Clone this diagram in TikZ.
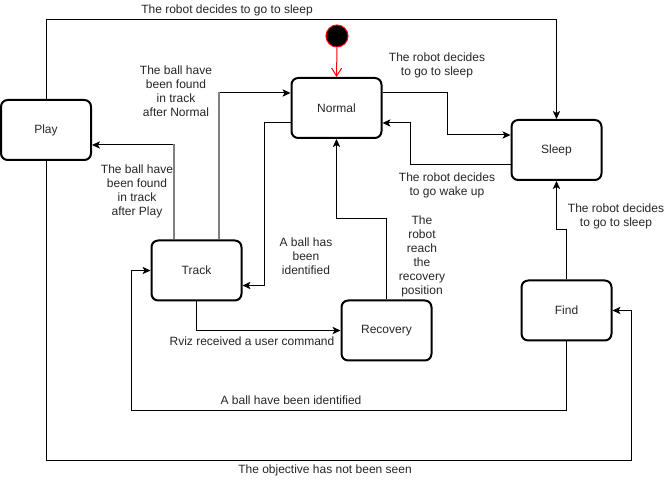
\documentclass[tikz,border=0pt]{standalone}
\usepackage{fontspec}
\setmainfont{Liberation Sans}
\usetikzlibrary{arrows.meta,calc}
\begin{document}
\begin{tikzpicture}[x=0.75pt,y=-0.75pt,
  font=\fontsize{9}{10.5}\selectfont,
  state/.style={draw=black,line width=1.5pt,rounded corners=5pt,minimum width=67.5pt,minimum height=45pt,inner sep=0pt,text=black!85},
  arr/.style={draw=black,line width=0.75pt,-{Stealth[length=6pt,width=5.5pt,inset=1.5pt]}},
  grayseg/.style={draw=black!50,line width=1.1pt},
  lbl/.style={align=center,text=black!85,inner sep=1pt}]
\useasboundingbox (0,0) rectangle (672,481);
\fill[white] (0,0) rectangle (672,481);
% states
\node[state] (play) at (46,130) {Play};
\node[state] (normal) at (336.5,108) {Normal};
\node[state] (sleep) at (556.5,150) {Sleep};
\node[state] (track) at (196.5,270.5) {Track};
\node[state] (recovery) at (386.5,330.5) {Recovery};
\node[state] (find) at (566.5,310.5) {Find};
% initial
\node[circle,draw=red,fill=black,line width=0.75pt,minimum size=16.5pt,inner sep=0pt] (init) at (337,36) {};
\draw[red,line width=0.75pt,-{Straight Barb[length=6pt,width=7.5pt]}] (init.south) -- (normal.north);
% edges
\draw[arr] (play.north) -- (play.north |- 0,20) -| (sleep.north);
\draw[arr] (play.south) |- (631,460) |- (find.east);
\draw[arr] ($(track.north)+(-22.5,0)$) |- ($(play.east)+(0,15)$);
\draw[grayseg] ($(track.north)+(-22.5,0)$) -- ($(track.north)+(-22.5,-95)$);
\draw[arr] ($(track.north)+(22.5,0)$) |- ($(normal.west)+(0,-15)$);
\draw[grayseg] ($(track.north)+(22.5,0)$) -- ($(track.north)+(22.5,-147)$);
\draw[arr] ($(normal.west)+(0,15)$) -- ++(-26,0) |- ($(track.east)+(0,15)$);
\draw[arr] ($(normal.east)+(0,-15)$) -- ++(65,0) |- ($(sleep.west)+(0,-15)$);
\draw[arr] ($(sleep.west)+(0,15)$) -- ++(-100,0) |- ($(normal.east)+(0,15)$);
\draw[arr] (track.south) |- (recovery.west);
\draw[arr] (recovery.north) -- ++(0,-81) -| (normal.south);
\draw[arr] (find.north) -- ++(0,-50) -| (sleep.south);
\draw[arr] (find.south) |- (131,410) |- (track.west);
% labels
\node[lbl] (l1) at (227,10) {The robot decides to go to sleep};
\node[lbl] (l2) at (325,470) {The objective has not been seen};
\node[lbl] (l3) at (137,191) {The ball have\\been found\\in track\\after Play};
\node[lbl] (l4) at (176,91) {The ball have\\been found\\in track\\after Normal};
\node[lbl] (l5) at (306,256) {A ball has\\been\\identified};
\node[lbl] (l6) at (437,65) {The robot decides\\to go to sleep};
\node[lbl] (l7) at (447,185) {The robot decides\\to go wake up};
\node[lbl] (l8) at (252,341) {Rviz received a user command};
\node[lbl] (l9) at (422,256) {The\\robot\\reach\\the\\recovery\\position};
\node[lbl] (l10) at (616,216) {The robot decides\\to go to sleep};
\node[lbl] (l11) at (291,400) {A ball have been identified};
\end{tikzpicture}
\end{document}
